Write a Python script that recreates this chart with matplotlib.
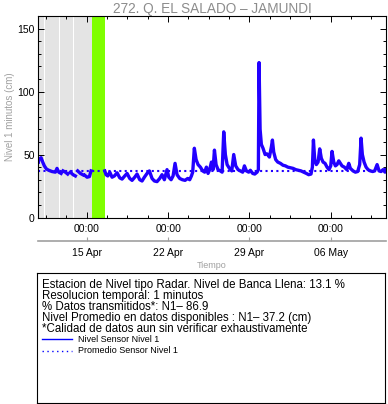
import matplotlib
matplotlib.use("Agg")
import matplotlib.pyplot as plt
import matplotlib.dates as mdates
import numpy as np
import pandas as pd

plt.rcParams["font.family"] = ["Liberation Sans", "DejaVu Sans"]

# dia del mes contado desde abril (mayo = 30 + dia), nivel en cm (nan = sin dato)
dias = [10.84, 10.87, 11.07, 11.21, 11.35, 11.53, 11.73, 12.01, 12.30, 12.44, 12.59, 12.79, 12.87,
        12.96, 13.16, 13.36, 13.48,
        13.59, 13.82, 14.02, 14.12,
        14.22, 14.45, 14.65, 14.74,
        14.83, 15.03, 15.23, 15.37, 15.45,
        16.55, 16.66, 16.81, 16.98, 17.18, 17.38, 17.61, 17.84, 18.04, 18.27, 18.47, 18.70,
        18.90, 19.13, 19.33, 19.56, 19.76, 19.96, 20.19, 20.39, 20.62, 20.82, 21.05, 21.28,
        21.48, 21.68, 21.91, 22.06, 22.26, 22.43, 22.60, 22.77, 23.00, 23.23, 23.46, 23.69,
        23.86, 24.01, 24.12, 24.26, 24.41, 24.58, 24.78, 24.98, 25.15, 25.30, 25.44, 25.58,
        25.73, 25.87, 25.99, 26.13, 26.30, 26.50, 26.65, 26.79, 26.93, 27.08, 27.28, 27.48,
        27.65, 27.82, 28.02, 28.22, 28.42, 28.57, 28.74, 28.94, 29.08, 29.28, 29.46, 29.66,
        29.77, 29.83, 29.92, 30.03, 30.17, 30.35, 30.52, 30.72, 30.89, 30.98, 31.09, 31.26,
        31.44, 31.67, 31.89, 32.10, 32.30, 32.53, 32.76, 32.99, 33.21, 33.44, 33.67, 33.90,
        34.10, 34.30, 34.42, 34.51, 34.62, 34.76, 34.91, 35.05, 35.19, 35.34, 35.51, 35.68,
        35.85, 36.00, 36.11, 36.26, 36.40, 36.54, 36.69, 36.83, 36.97, 37.17, 37.38, 37.55,
        37.69, 37.92, 38.12, 38.32, 38.49, 38.61, 38.72, 38.87, 39.04, 39.21, 39.41, 39.61,
        39.78, 39.99, 40.16, 40.33, 40.50, 40.67, 40.73]
nivel = [44, 46, 47.5, 44, 41, 38.5, 37.5, 36.5, 36, 39, 36, 35, np.nan,
         37, 36, 34.5, np.nan,
         36, 34, 33, np.nan,
         37, 35, 34, np.nan,
         33.5, 32, 32.5, 37, np.nan,
         37, 34, 33, 36, 32, 33, 35.5, 31.5, 30.5, 33, 35, 31,
         29.5, 32, 34.5, 30, 29, 32, 35, 37, 31, 29, 28.5, 31,
         34, 30, 38, 32, 30, 33, 43, 34, 31, 30, 29.5, 31,
         30, 33, 36, 55, 46, 42, 40, 37, 36, 40, 35, 38,
         44, 38, 53.5, 42, 38, 37, 36, 68, 50, 42, 39, 37,
         50, 41, 38, 37, 36, 41, 37, 36, 37.5, 35, 34.5, 36,
         38, 123, 70, 58, 55, 50, 50.5, 48, 56, 61.5, 52, 46,
         44, 43, 41.5, 41, 40, 39.5, 39, 38, 37.5, 37, 36, 35,
         34, 34.5, 40, 61.5, 46, 42, 44, 54.5, 47, 44, 43, 40,
         38, 41, 52.5, 44, 41, 42, 45, 43, 41, 40, 38, 43,
         39, 37, 36, 36.5, 42, 63, 50, 44, 40, 38, 37, 36.5,
         37, 42, 37, 36.5, 38, 36, 38]
promedio = 37.2

bandas_grises = [(10.70, 11.31), (11.39, 12.58), (12.67, 13.82), (13.91, 15.43)]
banda_verde = (15.43, 16.56)
inicio, fin = 10.83, 40.73

fechas_mayores = ["2024-04-15", "2024-04-22", "2024-04-29", "2024-05-06"]
etiquetas_fecha = ["15 Apr", "22 Apr", "29 Apr", "06 May"]

textos = ["Estacion de Nivel tipo Radar. Nivel de Banca Llena: 13.1 %",
          "Resolucion temporal: 1 minutos",
          "% Datos transmitidos*: N1\u2013 86.9",
          "Nivel Promedio en datos disponibles : N1\u2013 37.2 (cm)",
          "*Calidad de datos aun sin verificar exhaustivamente"]
leyendas = ["Nivel Sensor Nivel 1", "Promedio Sensor Nivel 1"]

base = pd.Timestamp("2024-03-31")


def a_fecha(d):
    return base + pd.to_timedelta(d, unit="D")


tiempo = [a_fecha(d) for d in dias]

fig = plt.figure(figsize=(3.88, 4.04), dpi=100)
W, H = 388, 404
ax = fig.add_axes([38.3 / W, 1 - 217.5 / H, (385.7 - 38.3) / W, (217.5 - 16) / H])

for a, b in bandas_grises:
    ax.axvspan(a_fecha(a), a_fecha(b), color="#e4e4e4", lw=0)
ax.axvspan(a_fecha(banda_verde[0]), a_fecha(banda_verde[1]), color="#7fff00", lw=0)

ax.plot(tiempo, nivel, color="#2200ff", lw=2.4, solid_joinstyle="round")
ax.axhline(promedio, color="#2200ff", lw=1.5, linestyle=(0, (1, 1.6)))

ax.set_xlim(a_fecha(inicio), a_fecha(fin))
ax.set_ylim(0, 160)

mayores = mdates.date2num([pd.Timestamp(f) for f in fechas_mayores])
menores = np.arange(mayores[0] - 1.75 * 3, mdates.date2num(a_fecha(fin)), 1.75)
ax.xaxis.set_major_locator(matplotlib.ticker.FixedLocator(mayores))
ax.xaxis.set_minor_locator(matplotlib.ticker.FixedLocator(menores))
ax.xaxis.set_major_formatter(matplotlib.ticker.FixedFormatter(["00:00"] * 4))
ax.set_yticks([0, 50, 100, 150])
ax.yaxis.set_minor_locator(matplotlib.ticker.MultipleLocator(10))

ax.tick_params(which="both", direction="in", top=True, right=True, labelsize=7.5, width=0.7, pad=2.5)
ax.tick_params(axis="x", pad=5)
ax.tick_params(which="major", length=4.5)
ax.tick_params(which="minor", length=2.2)
for s in ax.spines.values():
    s.set_linewidth(0.8)

ax.set_title("272. Q. EL SALADO \u2013 JAMUNDI", color="#8c8c8c", fontsize=9.8, pad=2)
ax.set_ylabel("Nivel 1 minutos (cm)", color="#a0a0a0", fontsize=7, labelpad=2)

sec = ax.secondary_xaxis(-0.119)
sec.set_xticks(mayores, labels=etiquetas_fecha)
sec.spines["bottom"].set_color("#a0a0a0")
sec.spines["bottom"].set_linewidth(1.2)
sec.tick_params(direction="in", length=3, color="#a0a0a0", labelsize=7.5, pad=5)
sec.set_xlabel("Tiempo", color="#a0a0a0", fontsize=6.5, labelpad=2)

caja = fig.add_axes([37 / W, 1 - 402.7 / H, (385 - 37) / W, (402.7 - 272.7) / H])
caja.set_xticks([])
caja.set_yticks([])
caja.set_xlim(0, 1)
caja.set_ylim(1, 0)
for s in caja.spines.values():
    s.set_linewidth(0.8)

y0, paso = 0.095, 0.085
for i, t in enumerate(textos):
    caja.text(0.0135, y0 + i * paso, t, fontsize=8.3, va="center", ha="left")

y_ley = [0.512, 0.600]
caja.plot([0.0135, 0.1], [y_ley[0]] * 2, color="#0000ff", lw=1.0)
caja.plot([0.0135, 0.1], [y_ley[1]] * 2, color="#0000ff", lw=1.0, linestyle=(0, (1, 2.5)))
for y, t in zip(y_ley, leyendas):
    caja.text(0.119, y, t, fontsize=6.5, va="center", ha="left")

fig.savefig("out.png", dpi=100)
